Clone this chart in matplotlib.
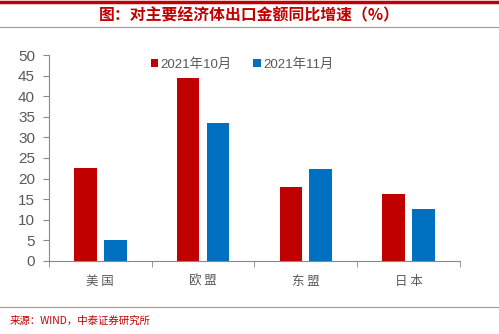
import numpy as np
import matplotlib.pyplot as plt
from matplotlib.lines import Line2D

plt.rcParams['font.family'] = ['Noto Sans CJK SC', 'DejaVu Sans']

# data
categories = ['美国', '欧盟', '东盟', '日本']
oct_vals = [22.6, 44.4, 18.0, 16.3]
nov_vals = [5.1, 33.5, 22.3, 12.6]
series_names = ['2021年10月', '2021年11月']

red = '#C00000'
blue = '#0070C0'
gray = '#595959'
num_font = ['Liberation Sans', 'Noto Sans CJK SC']

fig = plt.figure(figsize=(4.99, 3.34), dpi=100)
ax = fig.add_axes([0.098, 0.219, 0.824, 0.616])

x = np.arange(len(categories))
w = 0.22
ax.bar(x - 0.145, oct_vals, w, color=red, label=series_names[0])
ax.bar(x + 0.145, nov_vals, w, color=blue, label=series_names[1])

ax.set_xlim(-0.5, len(categories) - 0.5)
ax.set_ylim(0, 50)
ax.set_yticks(range(0, 51, 5))
ax.set_yticklabels([str(v) for v in range(0, 51, 5)], family=num_font)
ax.set_xticks(x)
ax.set_xticklabels([' '.join(c) for c in categories], fontsize=9, color=gray)
ax.set_xticks(np.arange(-0.5, len(categories)), minor=True)
ax.tick_params(axis='x', which='major', length=0, pad=10)
ax.tick_params(axis='x', which='minor', length=4, color='#888888', direction='out')
ax.tick_params(axis='y', length=4, color='#888888', labelsize=11, labelcolor=gray, pad=6)
for s in ['top', 'right']:
    ax.spines[s].set_visible(False)
for s in ['left', 'bottom']:
    ax.spines[s].set_color('#888888')
    ax.spines[s].set_linewidth(0.8)

ax.legend(loc='upper center', bbox_to_anchor=(0.47, 1.045), ncol=2, frameon=False,
          prop={'family': num_font, 'size': 9.6}, handlelength=0.55, handleheight=0.55,
          handletextpad=0.2, columnspacing=1.6, labelcolor=gray)

# header / footer decorations
fig.add_artist(Line2D([0, 1], [0.993, 0.993], color=red, lw=2.5))
fig.add_artist(Line2D([0, 1], [0.918, 0.918], color='#E08080', lw=0.8))
fig.add_artist(Line2D([0, 1], [0.081, 0.081], color='#E08080', lw=0.8))
fig.text(0.5, 0.955, '图：对主要经济体出口金额同比增速（%）', ha='center', va='center',
         fontsize=11.4, color=red, fontweight='bold')
fig.text(0.02, 0.04, '来源：WIND，中泰证券研究所', ha='left', va='center',
         fontsize=7.5, color=red)

fig.savefig('out.png', dpi=100)
